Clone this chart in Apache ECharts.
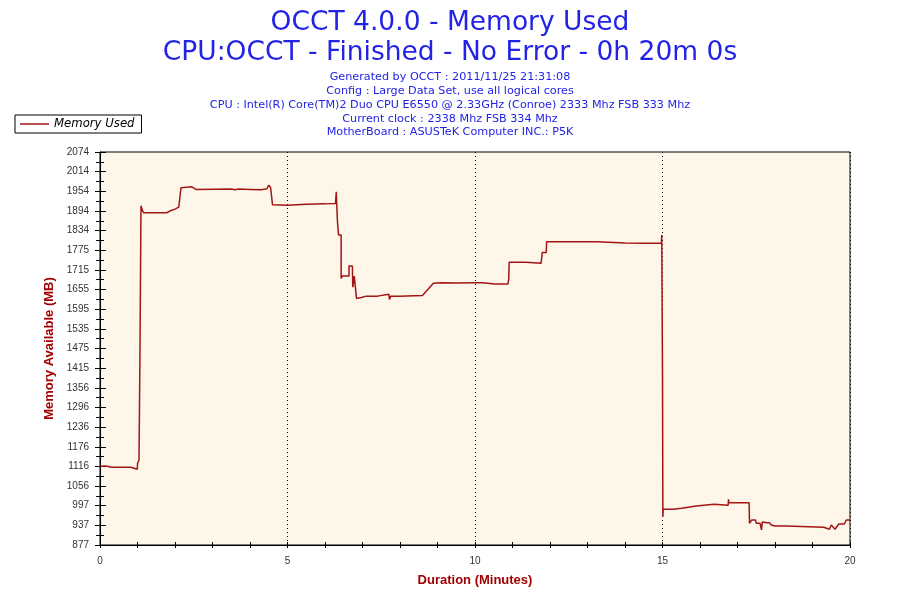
<!DOCTYPE html>
<html>
<head>
<meta charset="utf-8">
<script src="https://cdn.jsdelivr.net/npm/echarts@6/dist/echarts.min.js"></script>
<style>
html,body{margin:0;padding:0;background:#ffffff;}
#chart{width:900px;height:600px;}
</style>
</head>
<body>
<div id="chart"></div>
<script>
// ---- data ----
var titleLines = ['OCCT 4.0.0 - Memory Used', 'CPU:OCCT - Finished - No Error - 0h 20m 0s'];
var infoLines = [
  'Generated by OCCT : 2011/11/25 21:31:08',
  'Config : Large Data Set, use all logical cores',
  'CPU : Intel(R) Core(TM)2 Duo CPU E6550 @ 2.33GHz (Conroe) 2333 Mhz FSB 333 Mhz',
  'Current clock : 2338 Mhz FSB 334 Mhz',
  'MotherBoard : ASUSTeK Computer INC.: P5K'
];
var seriesName = 'Memory Used';
var yTickLabels = ['877','937','997','1056','1116','1176','1236','1296','1356','1415','1475','1535','1595','1655','1715','1775','1834','1894','1954','2014','2074'];
var yMin = 877, yMax = 2074;
var xMin = 0, xMax = 20;
// [minutes, MB]
var memorySamples = [
  [0,1116],[0.1,1118],[0.15,1114],[0.2,1117],[0.3,1114],[0.82,1114],[0.82,1108],[0.995,1108],
  [1.0,1125],[1.04,1136],[1.067,1136],[1.067,1477],[1.093,1477],[1.093,1910],[1.12,1900],[1.147,1900],
  [1.16,1889],[1.78,1889],[1.8,1893],[1.9,1896],[2.0,1900],[2.1,1906],[2.15,1906],[2.16,1965],
  [2.19,1968],[2.45,1968],[2.56,1960],[3.5,1961],[3.6,1959],[3.7,1961],[4.0,1960],[4.3,1959],
  [4.45,1962],[4.5,1973],[4.55,1965],[4.6,1913],[4.65,1912],[5.0,1912],[5.5,1915],[6.0,1916],
  [6.28,1917],[6.3,1953],[6.32,1950],[6.33,1867],[6.35,1867],[6.36,1821],[6.43,1821],[6.43,1689],
  [6.46,1696],[6.64,1696],[6.64,1727],[6.73,1727],[6.74,1662],[6.77,1660],[6.78,1696],[6.83,1696],
  [6.84,1628],[6.97,1631],[7.1,1635],[7.4,1635],[7.42,1641],[7.7,1641],[7.72,1625],[7.75,1635],
  [7.97,1635],[8.0,1637],[8.6,1637],[8.7,1650],[8.89,1674],[9.1,1676],[9.5,1675],[10.0,1676],
  [10.03,1672],[10.2,1676],[10.53,1672],[10.88,1672],[10.9,1686],[10.91,1738],[11.36,1738],[11.38,1735],
  [11.76,1735],[11.78,1752],[11.79,1768],[11.9,1768],[11.91,1801],[12.5,1801],[13.25,1801],[13.27,1796],
  [14.0,1797],[14.5,1796],[14.97,1796],[14.98,1821],[15.0,1821],[15.0,1390],[15.01,963],[15.02,986],
  [15.29,986],[15.3,989],[15.51,989],[15.52,994],[15.9,996],[15.95,1001],[16.37,1001],[16.4,998],
  [16.75,998],[16.76,1016],[16.77,1006],[17.31,1006],[17.32,943],[17.38,953],[17.48,953],[17.5,943],
  [17.6,943],[17.64,923],[17.66,947],[17.71,953],[17.78,945],[17.85,945],[17.9,938],[18.0,935],
  [18.31,935],[18.33,931],[19.3,931],[19.35,925],[19.45,925],[19.5,938],[19.6,925],[19.7,941],
  [19.85,941],[19.9,953],[20.0,953]
];

// ---- chart ----
var chart = echarts.init(document.getElementById('chart'), null, {renderer:'canvas'});
var blue = '#2323E6';
var dark = '#A31515';
var titles = [
  {text: titleLines[0], left:'center', top: 5, textStyle:{fontFamily:'DejaVu Sans', fontSize:26.5, fontWeight:'normal', color:blue}},
  {text: titleLines[1], left:'center', top: 35, textStyle:{fontFamily:'DejaVu Sans', fontSize:26.5, fontWeight:'normal', color:blue}}
];
var infoTops = [67, 81, 95, 109, 122];
infoLines.forEach(function(s, i){
  titles.push({text: s, left:'center', top: infoTops[i], textStyle:{fontFamily:'DejaVu Sans', fontSize:11.2, fontWeight:'normal', color:blue}});
});

var tickLabelStyle = {fontFamily:'Liberation Sans, Arial', fontSize:10, color:'#333333'};
var nameStyle = {fontFamily:'Liberation Sans Narrow, Liberation Sans, Arial', fontSize:13, fontWeight:'bold', color:'#A00000'};

var option = {
  backgroundColor:'#ffffff',
  animation:false,
  title: titles,
  legend: {
    data:[{name: seriesName, icon:'rect'}],
    left: 15, top: 115,
    orient:'vertical',
    padding:[3,7,3,5],
    itemWidth: 29, itemHeight: 1.5, itemGap: 0,
    borderColor:'#000000', borderWidth:1,
    backgroundColor:'#ffffff',
    textStyle:{fontFamily:'DejaVu Sans', fontSize:11.7, fontStyle:'italic', color:'#000000'}
  },
  grid: {left:100, right:50, top:152, bottom:55, show:true, backgroundColor:'#FEF7E9', borderColor:'#000000', borderWidth:1, containLabel:false},
  xAxis: [
    {
      type:'value', min:xMin, max:xMax, interval:5, position:'bottom',
      name:'Duration (Minutes)', nameLocation:'middle', nameGap:29, nameTextStyle: nameStyle,
      axisLine:{show:true, lineStyle:{color:'#000000', width:1}},
      axisTick:{show:true, length:3, lineStyle:{color:'#000000'}},
      minorTick:{show:true, splitNumber:5, length:3, lineStyle:{color:'#000000'}},
      axisLabel:{margin:11, ...tickLabelStyle},
      splitLine:{show:true, lineStyle:{color:'#000000', type:[1,3], width:1}},
      minorSplitLine:{show:false}
    },
    {
      type:'value', min:xMin, max:xMax, interval:5, position:'bottom', offset:0,
      axisLine:{show:false},
      axisTick:{show:true, inside:true, length:3, lineStyle:{color:'#000000'}},
      minorTick:{show:true, splitNumber:5, length:3, lineStyle:{color:'#000000'}},
      axisLabel:{show:false}, splitLine:{show:false}
    }
  ],
  yAxis: [
    {
      type:'value', min:0, max:yTickLabels.length-1, interval:1, position:'left',
      name:'Memory Available (MB)', nameLocation:'middle', nameGap:44, nameTextStyle: nameStyle,
      axisLine:{show:true, lineStyle:{color:'#000000', width:1}},
      axisTick:{show:true, length:5, lineStyle:{color:'#000000'}},
      minorTick:{show:true, splitNumber:2, length:4, lineStyle:{color:'#000000'}},
      axisLabel:{margin:11, formatter:function(v){ return yTickLabels[Math.round(v)] || ''; }, ...tickLabelStyle},
      splitLine:{show:false}
    },
    {
      type:'value', min:0, max:yTickLabels.length-1, interval:1, position:'left', offset:0,
      axisLine:{show:false},
      axisTick:{show:true, inside:true, length:6, lineStyle:{color:'#000000'}},
      minorTick:{show:true, splitNumber:2, length:4, lineStyle:{color:'#000000'}},
      axisLabel:{show:false}, splitLine:{show:false}
    },
    {
      type:'value', min:yMin, max:yMax, show:false, position:'left', splitLine:{show:false}
    }
  ],
  series: [{
    name: seriesName,
    type:'line',
    xAxisIndex:0, yAxisIndex:2,
    symbol:'none', showSymbol:false,
    lineStyle:{color:dark, width:1.5},
    itemStyle:{color:dark},
    data: memorySamples
  }]
};
chart.setOption(option);
</script>
</body>
</html>
